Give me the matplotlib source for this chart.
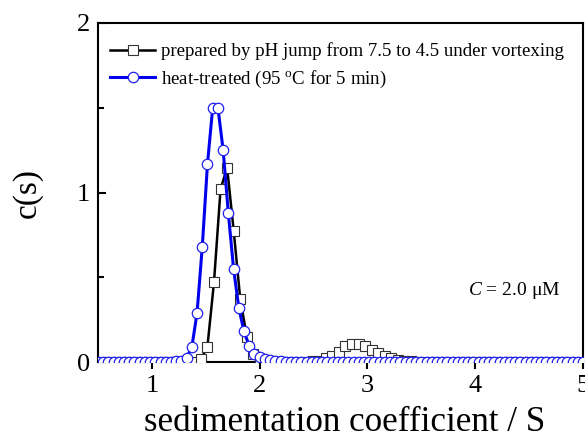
"""
c(s) distribution: pH-jump sample vs heat-treated sample.
"""
import numpy as np
import matplotlib
matplotlib.use("Agg")
import matplotlib.pyplot as plt

plt.rcParams["font.family"] = ["Liberation Serif", "DejaVu Serif"]
plt.rcParams["mathtext.fontset"] = "custom"
plt.rcParams["mathtext.rm"] = "Liberation Serif"
plt.rcParams["mathtext.it"] = "Liberation Serif:italic"

# sedimentation coefficient grids (S)
S_PH = np.linspace(0.54, 4.99, 74)
S_HEAT = np.linspace(0.50, 5.00, 94)

# c(s) for the pH-jump sample (squares)
C_PH = [
    0, 0, 0, 0, 0, 0, 0, 0, 0, 0,
    0, 0, 0, 0, 0, 0.016, 0.09, 0.47, 1.02, 1.146,
    0.775, 0.37, 0.15, 0.05, 0.01, 0, 0, 0, 0, 0,
    0, 0.002, 0.004, 0.008, 0.022, 0.037, 0.061, 0.096, 0.106, 0.106,
    0.093, 0.073, 0.053, 0.037, 0.022, 0.014, 0.008, 0.004, 0.002, 0,
    0, 0, 0, 0, 0, 0, 0, 0, 0, 0,
    0, 0, 0, 0, 0, 0, 0, 0, 0, 0,
    0, 0, 0, 0,
]

# c(s) for the heat-treated sample (circles)
C_HEAT = [
    0, 0, 0, 0, 0, 0, 0, 0, 0, 0,
    0, 0, 0, 0, 0, 0.003, 0.008, 0.025, 0.088, 0.29,
    0.68, 1.17, 1.50, 1.50, 1.25, 0.877, 0.55, 0.32, 0.18, 0.095,
    0.05, 0.03, 0.018, 0.01, 0.006, 0.004, 0.002, 0.001, 0, 0,
    0, 0, 0, 0, 0, 0, 0, 0, 0, 0,
    0, 0, 0, 0, 0, 0, 0, 0, 0, 0,
    0, 0, 0, 0, 0, 0, 0, 0, 0, 0,
    0, 0, 0, 0, 0, 0, 0, 0, 0, 0,
    0, 0, 0, 0, 0, 0, 0, 0, 0, 0,
    0, 0, 0, 0,
]

LABEL_PH = "prepared by pH jump from 7.5 to 4.5 under vortexing"
LABEL_HEAT = r"heat-treated (95 $^{\mathrm{o}}$C for 5 min)"

fig = plt.figure(figsize=(5.85, 4.38), dpi=100)
ax = fig.add_axes([0.1675, 0.1735, 0.829, 0.774])

ax.plot(S_PH, C_PH, "-s", color="black", lw=1.8, ms=6.6,
        mfc="white", mec="#333333", mew=0.8, zorder=3, label=LABEL_PH)
ax.plot(S_HEAT, C_HEAT, "-o", color="#0000EE", lw=2.2, ms=7.5,
        mfc="white", mec="#2020F0", mew=0.9, zorder=4, label=LABEL_HEAT)

ax.set_xlim(0.5, 5.0)
ax.set_ylim(0, 2)
ax.set_xticks([1, 2, 3, 4, 5])
ax.set_yticks([0, 1, 2])
ax.set_yticks([0.5, 1.5], minor=True)

for sp in ax.spines.values():
    sp.set_linewidth(1.5)

ax.tick_params(axis="x", direction="out", length=5, width=1.5,
               labelsize=19, pad=4)
ax.tick_params(axis="y", which="major", direction="in", length=6,
               width=1.5, labelsize=19, pad=6)
ax.tick_params(axis="y", which="minor", direction="in", length=4,
               width=1.5)

ax.set_xlabel("sedimentation coefficient / S", fontsize=25.2)
ax.xaxis.set_label_coords(0.508, -0.204, transform=ax.transAxes)
ax.xaxis.label.set_va("baseline")
ax.set_ylabel("c(s)", fontsize=24, labelpad=24)

ax.text(0.953, 0.21, r"$C$ = 2.0 μM", transform=ax.transAxes,
        fontsize=14, ha="right", va="center")

ax.legend(loc="upper left", bbox_to_anchor=(0.013, 0.959), frameon=False,
          fontsize=13.6, handlelength=2.4, handletextpad=0.3,
          borderaxespad=0, labelspacing=0.45, borderpad=0.3)

fig.savefig("out.png", dpi=100)
